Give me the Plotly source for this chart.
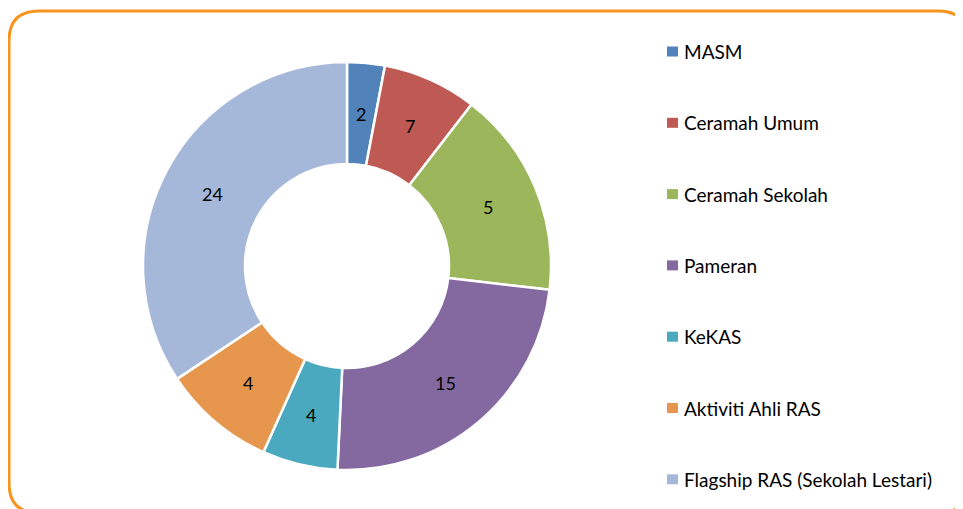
import math
import plotly.graph_objects as go

categories = ["MASM", "Ceramah Umum", "Ceramah Sekolah", "Pameran", "KeKAS",
              "Aktiviti Ahli RAS", "Flagship RAS (Sekolah Lestari)"]
# slice sizes as drawn (angles)
slice_values = [2, 5, 11, 16, 4, 6, 23]
# numbers printed on the slices
label_values = [2, 7, 5, 15, 4, 4, 24]
colors = ["#5182BA", "#BE5953", "#9CB65C", "#8469A1", "#4AA9BF", "#E6974D", "#A5B8D9"]

W, H = 963, 509
OFF = 8  # page body margin offset
FONT = "Lato"


def px(x):
    return (x - OFF) / W


def py(y):
    return 1 - (y - OFF) / H


cx, cy, r = 347, 266, 204
HOLE = 0.5

fig = go.Figure()
fig.add_trace(go.Pie(
    labels=categories, values=slice_values,
    textinfo="none",
    hole=HOLE, sort=False, direction="clockwise", rotation=0,
    marker=dict(colors=colors, line=dict(color="white", width=2.5)),
    domain=dict(x=[px(cx - r), px(cx + r)], y=[py(cy + r), py(cy - r)]),
    showlegend=False, hoverinfo="label+value",
))

shapes = []
annotations = []

# value labels at the middle of each ring segment
total = sum(slice_values)
cum = 0
r_lab = r * (1 + HOLE) / 2
for v, lab in zip(slice_values, label_values):
    mid = (cum + v / 2) / total * 2 * math.pi
    cum += v
    lx = cx + r_lab * math.sin(mid)
    ly = cy - r_lab * math.cos(mid)
    annotations.append(dict(text=str(lab), xref="paper", yref="paper",
                            x=px(lx), y=py(ly), xanchor="center", yanchor="middle",
                            showarrow=False,
                            font=dict(family=FONT, size=18, color="black")))

for i, (name, col) in enumerate(zip(categories, colors)):
    yc = 51.5 + i * 71.3
    shapes.append(dict(type="rect", xref="paper", yref="paper",
                       x0=px(667), x1=px(678), y0=py(yc + 5), y1=py(yc - 5),
                       fillcolor=col, line=dict(width=0)))
    annotations.append(dict(text=name, xref="paper", yref="paper",
                            x=px(682), y=py(yc), xanchor="left", yanchor="middle",
                            showarrow=False,
                            font=dict(family=FONT, size=19, color="black")))

# rounded orange frame
L, T, R, B, rr = 9, 11, 968, 513, 30
path = (f"M {px(L)},{py(T + rr)} Q {px(L)},{py(T)} {px(L + rr)},{py(T)} "
        f"L {px(R - rr)},{py(T)} Q {px(R)},{py(T)} {px(R)},{py(T + rr)} "
        f"L {px(R)},{py(B - rr)} Q {px(R)},{py(B)} {px(R - rr)},{py(B)} "
        f"L {px(L + rr)},{py(B)} Q {px(L)},{py(B)} {px(L)},{py(B - rr)} Z")
shapes.append(dict(type="path", xref="paper", yref="paper", path=path,
                   line=dict(color="#F7941E", width=3), fillcolor="rgba(0,0,0,0)"))

fig.update_layout(
    width=W, height=H,
    margin=dict(l=0, r=0, t=0, b=0),
    paper_bgcolor="white", plot_bgcolor="white",
    shapes=shapes, annotations=annotations,
    showlegend=False,
    font=dict(family=FONT),
)

fig.write_html("out.html")
